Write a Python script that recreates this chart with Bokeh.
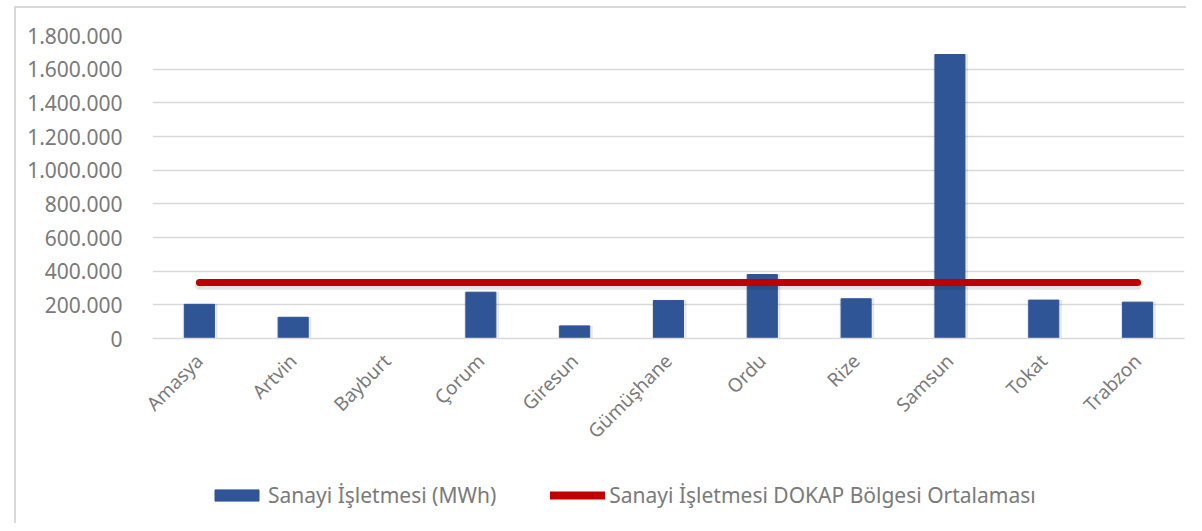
import math
from bokeh.plotting import figure
from bokeh.layouts import column
from bokeh.models import (ColumnDataSource, SingleIntervalTicker, CustomJSTickFormatter,
                          Legend, LegendItem, Range1d, FactorRange)
from bokeh.transform import dodge
from bokeh.embed import file_html
from bokeh.resources import INLINE

# ---- data ----
provinces = ["Amasya", "Artvin", "Bayburt", "Çorum", "Giresun", "Gümüşhane",
             "Ordu", "Rize", "Samsun", "Tokat", "Trabzon"]
sanayi_mwh = [203000, 126000, 0, 275000, 75000, 226000,
              380000, 236000, 1687000, 228000, 216000]
dokap_avg = [332000, 332000, 332000, 332000, 332000, 332000,
             332000, 332000, 332000, 332000, 332000]
bar_label = "Sanayi İşletmesi (MWh)"
line_label = "Sanayi İşletmesi DOKAP Bölgesi Ortalaması"

FONT = "Noto Sans"
TXT = "#7a7a7a"
BLUE = "#2F5597"
RED = "#C00000"
GRID = "#d9d9d9"

src = ColumnDataSource(dict(prov=provinces, val=sanayi_mwh, avg=dokap_avg))

# ---------- main chart ----------
p = figure(width=1186, height=463, x_range=FactorRange(*provinces, range_padding=0),
           y_range=Range1d(0, 1800000), output_backend="svg", toolbar_location=None,
           min_border_left=152, min_border_right=2, min_border_top=35, min_border_bottom=125)
p.border_fill_color = None
p.outline_line_color = None
p.background_fill_color = "#ffffff"

# soft shadows (Excel shadow effect)
p.vbar(x=dodge("prov", 0.008, range=p.x_range), top="val", width=0.36, source=src,
       color="#000000", alpha=0.07)
bars = p.vbar(x="prov", top="val", width=0.32, source=src, color=BLUE)
p.line(x="prov", y=dodge("avg", -16000), source=src, line_width=9, color="#000000",
       alpha=0.10, line_cap="round")
line = p.line(x="prov", y="avg", source=src, line_width=7, color=RED, line_cap="round")

p.yaxis.ticker = SingleIntervalTicker(interval=200000)
p.yaxis.formatter = CustomJSTickFormatter(code="""
    return Math.round(tick).toString().replace(/\\B(?=(\\d{3})+(?!\\d))/g, ".");
""")
p.yaxis.axis_line_color = None
p.yaxis.major_tick_line_color = None
p.yaxis.minor_tick_line_color = None
p.yaxis.major_label_text_font = FONT
p.yaxis.major_label_text_font_size = "21px"
p.yaxis.major_label_text_color = TXT
p.yaxis.major_label_standoff = 24

p.xaxis.axis_line_color = GRID
p.xaxis.axis_line_width = 1.5
p.xaxis.major_tick_line_color = None
p.xaxis.minor_tick_line_color = None
p.xaxis.major_label_orientation = math.pi / 4
p.xaxis.major_label_text_font = FONT
p.xaxis.major_label_text_font_size = "19px"
p.xaxis.major_label_text_color = TXT
p.xaxis.major_label_standoff = 13

p.xgrid.grid_line_color = None
p.ygrid.grid_line_color = GRID
p.ygrid.grid_line_width = 1.5

# ---------- legend strip ----------
lg = figure(width=1186, height=60, x_range=Range1d(0, 1), y_range=Range1d(0, 1),
            output_backend="svg", toolbar_location=None,
            min_border_left=0, min_border_right=0, min_border_top=0, min_border_bottom=0)
lg.axis.visible = False
lg.grid.visible = False
lg.outline_line_color = None
lg.border_fill_color = None
lg.background_fill_color = None
# legend-key proxies lying outside the visible range
proxy = ColumnDataSource(dict(x=[-10, -9], y=[-10, -10]))
lbar = lg.vbar(x="x", top="y", width=0.1, source=proxy, color=BLUE)
lline = lg.line(x="x", y="y", source=proxy, line_width=8, color=RED, line_cap="round")

legend = Legend(items=[LegendItem(label=bar_label, renderers=[lbar], index=0),
                       LegendItem(label=line_label, renderers=[lline])],
                orientation="horizontal", location=(57, 14),
                border_line_color=None, background_fill_alpha=0,
                label_text_font=FONT, label_text_font_size="21px",
                label_text_color=TXT, glyph_width=55, glyph_height=14,
                label_standoff=4, spacing=54, padding=0, margin=0)
lg.add_layout(legend, "center")

layout = column(p, lg, spacing=0,
                styles={"background": (f"linear-gradient({GRID},{GRID}) 14px 6px / 2px 100% no-repeat, "
                                       f"linear-gradient({GRID},{GRID}) 14px 6px / 100% 2px no-repeat, #ffffff")})

open("out.html", "w").write(file_html(layout, INLINE))
